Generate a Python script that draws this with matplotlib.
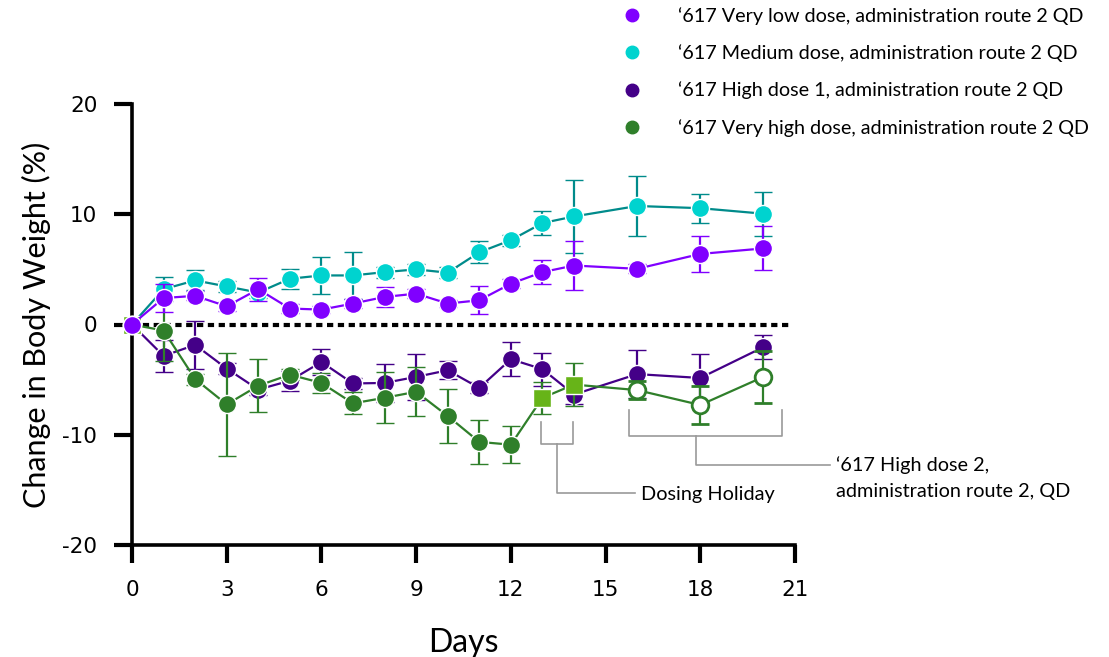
import numpy as np
import matplotlib
matplotlib.use("Agg")
import matplotlib.pyplot as plt
from matplotlib.lines import Line2D

plt.rcParams["axes.unicode_minus"] = False

# ---------------- data ----------------
days = [0, 1, 2, 3, 4, 5, 6, 7, 8, 9, 10, 11, 12, 13, 14, 16, 18, 20]

very_low = [0, 2.4, 2.6, 1.65, 3.2, 1.45, 1.35, 1.9, 2.5, 2.8, 1.9, 2.2, 3.7, 4.75, 5.35, 5.05, 6.4, 6.9]
very_low_err = [0, 1.3, 0.4, 0.4, 1.05, 0.4, 0.3, 0.4, 0.9, 0.4, 0.3, 1.25, 0.4, 1.1, 2.2, 0.4, 1.65, 2.0]

medium = [0, 3.2, 4.0, 3.45, 2.9, 4.15, 4.45, 4.45, 4.75, 5.0, 4.7, 6.55, 7.65, 9.2, 9.8, 10.75, 10.55, 10.05]
medium_err = [0, 1.1, 0.9, 0.5, 0.5, 0.9, 1.7, 2.1, 0.5, 0.5, 0.5, 1.0, 0.5, 1.05, 3.35, 2.75, 1.3, 2.0]

high1 = [0, -2.85, -1.85, -4.0, -5.9, -5.1, -3.4, -5.35, -5.3, -4.75, -4.15, -5.75, -3.15, -4.05, -6.35, -4.5, -4.85, -2.05]
high1_err = [0, 1.45, 2.15, 0.5, 0.5, 0.9, 1.2, 0.5, 1.75, 2.1, 0.8, 0.5, 1.55, 1.5, 0.9, 2.2, 2.2, 1.1]

vhigh_days = [0, 1, 2, 3, 4, 5, 6, 7, 8, 9, 10, 11, 12]
vhigh = [0, -0.55, -4.95, -7.25, -5.55, -4.55, -5.3, -7.15, -6.65, -6.1, -8.3, -10.65, -10.9]
vhigh_err = [0, 2.8, 0.5, 4.65, 2.4, 0.5, 0.9, 1.0, 2.3, 2.2, 2.45, 2.0, 1.65]

holiday_days = [0, 13, 14]
holiday = [0, -6.65, -5.45]
holiday_err = [0, 1.45, 1.95]

high2_days = [16, 18, 20]
high2 = [-5.95, -7.3, -4.75]
high2_err = [0.8, 1.7, 2.35]

x_ticks = [0, 3, 6, 9, 12, 15, 18, 21]
y_ticks = [-20, -10, 0, 10, 20]

legend_labels = [
    "\u2018617 Very low dose, administration route 2 QD",
    "\u2018617 Medium dose, administration route 2 QD",
    "\u2018617 High dose 1, administration route 2 QD",
    "\u2018617 Very high dose, administration route 2 QD",
]

# annotation brackets (data coordinates)
holiday_bracket = dict(x0=12.96, x1=13.97, ytop=-8.8, ybot=-10.8, xstem=13.46, yend=-15.3, xend=15.93)
high2_bracket = dict(x0=15.74, x1=20.59, ytop=-7.8, ybot=-10.15, xstem=17.86, yend=-12.7, xend=22.1)

# ---------------- style ----------------
C_VLOW = "#8000ff"
C_MED = "#00d3cf"
C_MED_LINE = "#008b8b"
C_HIGH1 = "#440088"
C_VHIGH = "#2f7f2a"
C_HOLI = "#67b418"
C_GRAY = "#9a9a9a"
TXT_FONT = ["Lato", "DejaVu Sans"]

fig = plt.figure(figsize=(11.09, 6.57), dpi=100)
ax = fig.add_axes([132 / 1109, 1 - 545 / 657, (795 - 132) / 1109, (545 - 104) / 657])

ms = 13
lw = 1.6
cap = 6.5

def eb(x, y, e, mcol, lcol, z, marker="o", ls="-"):
    ax.errorbar(x, y, yerr=e, fmt=marker, ls=ls, color=lcol, lw=lw,
                ms=ms, mfc=mcol, mec="white", mew=1.0,
                ecolor=lcol, elinewidth=lw, capsize=cap, capthick=lw,
                zorder=z, clip_on=False)

# zero dotted line
ax.axhline(0, xmin=0, xmax=0.993, color="black", lw=3.0, ls=(0, (1.5, 1.1)), zorder=1)

eb(days, medium, medium_err, C_MED, C_MED_LINE, 2)
eb(days, high1, high1_err, C_HIGH1, C_HIGH1, 3)

# very high dose: continuous line through all phases
all_g_days = np.concatenate([vhigh_days, holiday_days[1:], high2_days])
all_g = np.concatenate([vhigh, holiday[1:], high2])
ax.plot(all_g_days, all_g, color=C_VHIGH, lw=lw, zorder=4, clip_on=False)
eb(vhigh_days, vhigh, vhigh_err, C_VHIGH, C_VHIGH, 4, ls="none")
ax.errorbar(high2_days, high2, yerr=high2_err, fmt="o", ls="none", color=C_VHIGH,
            ms=ms - 1, mfc="white", mec=C_VHIGH, mew=2.0, ecolor=C_VHIGH,
            elinewidth=lw, capsize=cap, capthick=lw, zorder=4, clip_on=False)
ax.errorbar(holiday_days, holiday, yerr=holiday_err, fmt="s", ls="none", color=C_HOLI,
            ms=ms, mfc=C_HOLI, mec="white", mew=1.0, ecolor=C_VHIGH,
            elinewidth=lw, capsize=cap, capthick=lw, zorder=5, clip_on=False)

eb(days, very_low, very_low_err, C_VLOW, C_VLOW, 6)

# axes
ax.set_xlim(0, 21)
ax.set_ylim(-20, 20)
ax.set_xticks(x_ticks)
ax.set_yticks(y_ticks)
for s in ["top", "right"]:
    ax.spines[s].set_visible(False)
for s in ["left", "bottom"]:
    ax.spines[s].set_linewidth(2.6)
ax.tick_params(axis="both", direction="out", length=13, width=3.0, labelsize=15.5, pad=12)
ax.set_xlabel("Days", fontsize=23, family=TXT_FONT, labelpad=20)
ax.set_ylabel("Change in Body Weight (%)", fontsize=22, family=TXT_FONT, labelpad=8)

# annotation brackets
def bracket(b, text_lines, ty_first, dy):
    kw = dict(color=C_GRAY, lw=1.2, clip_on=False, zorder=1)
    ax.plot([b["x0"], b["x0"], b["x1"], b["x1"]], [b["ytop"], b["ybot"], b["ybot"], b["ytop"]], **kw)
    ax.plot([b["xstem"], b["xstem"], b["xend"]], [b["ybot"], b["yend"], b["yend"]], **kw)
    for i, t in enumerate(text_lines):
        ax.text(b["xend"] + 0.2, ty_first - i * dy, t, fontsize=14.3, family=TXT_FONT,
                va="center", ha="left", clip_on=False)

bracket(holiday_bracket, ["Dosing Holiday"], -15.4, 0)
bracket(high2_bracket, ["\u2018617 High dose 2,", "administration route 2, QD"], -12.75, 2.36)

# legend
handles = [Line2D([], [], ls="none", marker="o", ms=9, mfc=c, mec=c)
           for c in [C_VLOW, C_MED, C_HIGH1, C_VHIGH]]
fig.legend(handles, legend_labels, loc="upper left", bbox_to_anchor=(623 / 1109, 0.989),
           frameon=False, handlelength=0.92, handletextpad=1.85, borderpad=0,
           borderaxespad=0, labelspacing=0.98, prop=dict(family=TXT_FONT, size=14.2))

fig.savefig("out.png", dpi=100)
